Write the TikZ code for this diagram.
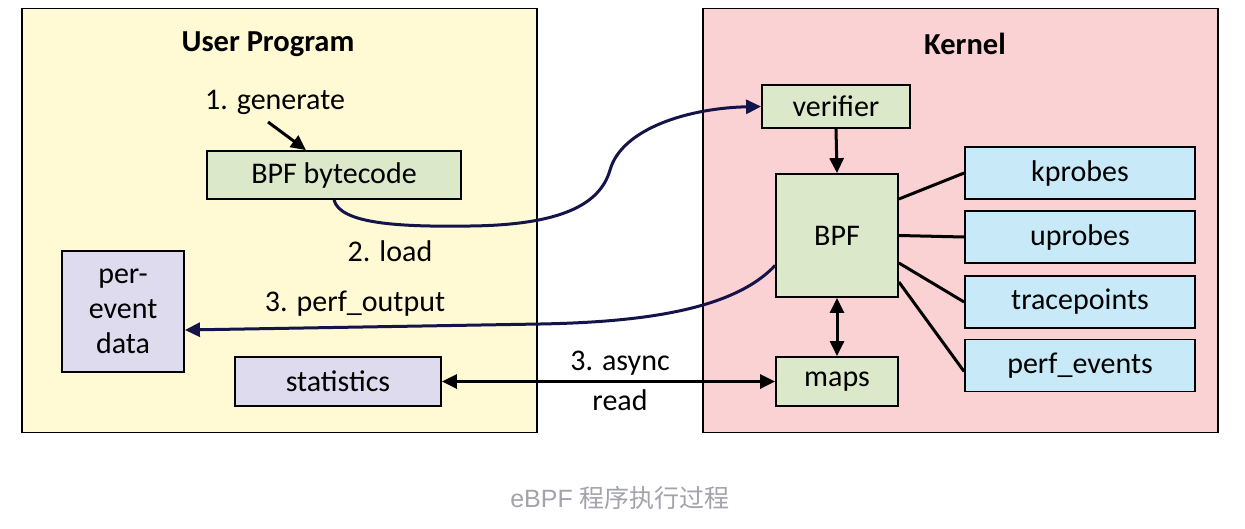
\documentclass[tikz,border=0pt]{standalone}
\usepackage{fontspec}
\setmainfont{Carlito}
\newfontfamily\capfont{Liberation Sans}
\newfontfamily\cjkfont{Noto Sans CJK SC}
\usetikzlibrary{arrows.meta,calc}
\definecolor{uyel}{HTML}{FFFAD4}
\definecolor{kpink}{HTML}{FAD2D4}
\definecolor{bgreen}{HTML}{DCE8CA}
\definecolor{pblue}{HTML}{C8EAF8}
\definecolor{lav}{HTML}{DEDBEE}
\definecolor{navyl}{HTML}{14144A}
\definecolor{capgray}{HTML}{A3A3AD}
\begin{document}
\begin{tikzpicture}[x=1pt,y=-1pt,
  region/.style={draw=black,line width=1.8pt,inner sep=0pt},
  boxn/.style={draw=black,line width=1.8pt,inner sep=0pt,font=\fontsize{30}{35}\selectfont,align=center},
  greenbox/.style={boxn,fill=bgreen},
  bluebox/.style={boxn,fill=pblue},
  lavbox/.style={boxn,fill=lav},
  lbl/.style={font=\fontsize{30}{40}\selectfont,align=center,inner sep=0pt},
  ttl/.style={font=\fontsize{30.5}{35}\selectfont\bfseries,inner sep=0pt},
  conn/.style={line width=3pt,black},
  curvy/.style={line width=3pt,navyl},
  tip/.style={-{Triangle[length=15pt,width=14pt]}},
  tips/.style={{Triangle[length=15pt,width=14pt]}-{Triangle[length=15pt,width=14pt]}}
]
\useasboundingbox (0,0) rectangle (1245,528);
\fill[white] (0,0) rectangle (1245,528);
% regions
\node[region,fill=uyel,minimum width=515pt,minimum height=424pt] (user) at (279.5,220.5) {};
\node[region,fill=kpink,minimum width=515pt,minimum height=424pt] (kern) at (960.5,220.5) {};
\node[ttl] (utitle) at (268,44) {User Program};
\node[ttl] (ktitle) at (965,44) {Kernel};
% user side
\node[greenbox,minimum width=254pt,minimum height=48pt] (bc) at (334,175) {BPF bytecode};
\node[lavbox,minimum width=122pt,minimum height=121pt] (pe) at (123,311.5) {per-\\event\\data};
\node[lavbox,minimum width=206pt,minimum height=49pt] (stat) at (338,381.5) {statistics};
\node[lbl] (gen) at (275,102) {1. generate};
\node[lbl] (load) at (390,251) {2. load};
\node[lbl] (pout) at (355,304) {3. perf\_output};
\node[lbl] (async) at (620,381) {3. async\\read};
% kernel side
\node[greenbox,minimum width=148pt,minimum height=43pt] (ver) at (836,106.5) {verifier};
\node[greenbox,minimum width=122pt,minimum height=123pt] (bpf) at (837,235.5) {BPF};
\node[greenbox,minimum width=122pt,minimum height=49pt] (maps) at (837,381.5) {maps};
\node[bluebox,minimum width=230pt,minimum height=52pt] (kp) at (1080,173) {kprobes};
\node[bluebox,minimum width=230pt,minimum height=52pt] (up) at (1080,237) {uprobes};
\node[bluebox,minimum width=230pt,minimum height=52pt] (tp) at (1080,302) {tracepoints};
\node[bluebox,minimum width=230pt,minimum height=52pt] (pev) at (1080,365.5) {perf\_events};
% caption
\node[inner sep=0pt,text=capgray,font=\fontsize{25}{30}\selectfont] (cap) at (620,498) {\capfont eBPF \cjkfont 程序执行过程};
% connectors
\coordinate (genstart) at (268,122);
\draw[conn,tip] (genstart) -- ([xshift=-28pt]bc.north);
\draw[curvy,tip] (bc.south) .. controls (340,224) and (400,227) .. (470,226)
  .. controls (560,225) and (600,205) .. (610,170)
  .. controls (622,128) and (690,108) .. (ver.west);
\draw[curvy,tip] ([yshift=-30pt]bpf.west) .. controls (735,308) and (650,322) .. (540,324)
  -- ([yshift=-18.5pt]pe.east);
\draw[conn,tip] (ver.south) -- (bpf.north);
\draw[conn,tips] (bpf.south) -- (maps.north);
\draw[conn,tips] (stat.east) -- (maps.west);
\draw[conn] ([yshift=36.5pt]bpf.east) -- (kp.west);
\draw[conn] (bpf.east) -- (up.west);
\draw[conn] ([yshift=-27.5pt]bpf.east) -- (tp.west);
\draw[conn] ([yshift=-46.5pt]bpf.east) -- ([yshift=-6pt]pev.west);
\end{tikzpicture}
\end{document}
